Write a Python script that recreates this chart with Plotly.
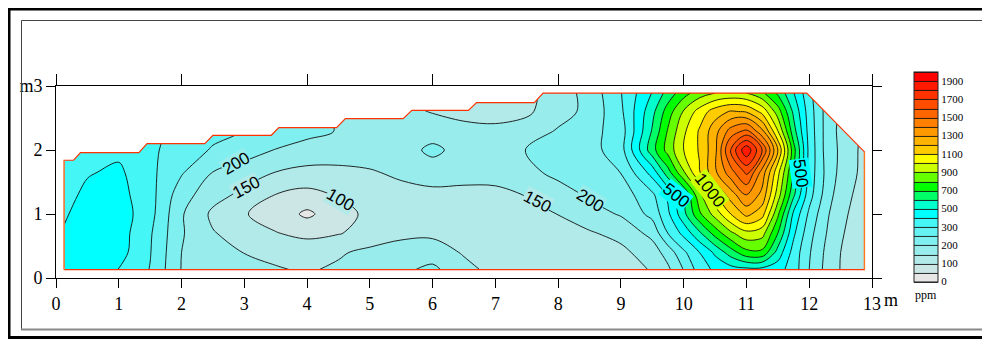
import plotly.graph_objects as go

# ---------------- data ----------------
x_m = [0.13, 0.5, 1.0, 1.5, 2.0, 2.5, 3.0, 3.5, 4.0, 4.5, 5.0, 5.5, 6.0, 6.5, 7.0, 7.5,
       8.0, 8.5, 9.0, 9.5, 9.75, 10.0, 10.25, 10.5, 10.75, 11.0, 11.25, 11.5, 11.75,
       12.0, 12.25, 12.5, 12.88]
y_m = [0.13, 0.4, 0.7, 1.0, 1.3, 1.65, 2.0, 2.3, 2.6, 2.89]

# ppm values, one row per y (bottom to top), one column per x
ppm_row_0 = [440, 460, 398, 298, 198, 175, 162, 154, 145, 158, 172, 190, 212, 165, 135, 128,
             125, 128, 138, 152, 190, 252, 345, 420, 455, 470, 465, 440, 350, 250, 190, 148, 115]
ppm_row_1 = [430, 465, 440, 305, 200, 168, 149, 138, 128, 144, 162, 172, 175, 145, 128, 118,
             114, 120, 138, 175, 222, 290, 400, 520, 650, 770, 775, 560, 360, 255, 195, 150, 120]
ppm_row_2 = [412, 462, 448, 312, 205, 153, 130, 102, 88, 97, 118, 138, 140, 132, 122, 118,
             122, 145, 165, 215, 302, 430, 580, 740, 880, 970, 940, 700, 420, 268, 205, 155, 122]
ppm_row_3 = [385, 458, 455, 335, 205, 140, 103, 80, 40, 80, 112, 120, 122, 118, 125, 138,
             151, 178, 205, 265, 380, 570, 780, 940, 1100, 1230, 1140, 820, 480, 290, 215, 160, 128]
ppm_row_4 = [368, 422, 435, 336, 222, 168, 138, 99, 85, 104, 125, 136, 140, 135, 138, 152,
             175, 208, 222, 290, 420, 600, 870, 1090, 1250, 1400, 1270, 950, 620, 340, 235, 170, 130]
ppm_row_5 = [348, 392, 418, 325, 255, 199, 172, 149, 135, 137, 146, 158, 168, 170, 168, 185,
             215, 225, 251, 440, 660, 890, 1090, 1280, 1460, 1620, 1360, 1030, 690, 360, 245, 185, 135]
ppm_row_6 = [330, 345, 378, 318, 278, 245, 228, 198, 185, 178, 172, 172, 215, 175, 178, 201,
             222, 230, 280, 660, 840, 1000, 1110, 1270, 1620, 1880, 1600, 1200, 740, 370, 240, 190, 135]
ppm_row_7 = [320, 330, 345, 315, 292, 265, 249, 228, 212, 198, 180, 170, 170, 165, 162, 170,
             205, 232, 275, 610, 810, 980, 1110, 1260, 1440, 1520, 1320, 1000, 640, 360, 240, 185, 140]
ppm_row_8 = [320, 325, 335, 310, 295, 270, 252, 232, 212, 190, 170, 160, 148, 135, 130, 142,
             178, 215, 290, 570, 750, 910, 1040, 1150, 1210, 1190, 1070, 850, 580, 350, 240, 190, 140]
ppm_row_9 = [320, 325, 330, 305, 295, 275, 255, 232, 210, 185, 162, 145, 130, 120, 118, 135,
             175, 218, 298, 505, 640, 760, 850, 900, 920, 900, 820, 680, 505, 330, 240, 190, 140]
ppm_rows = [ppm_row_0, ppm_row_1, ppm_row_2, ppm_row_3, ppm_row_4,
            ppm_row_5, ppm_row_6, ppm_row_7, ppm_row_8, ppm_row_9]

# legend class boundaries (ppm) and the colour of each class
level_ppm = [0, 50, 100, 150, 200, 250, 300, 400, 500, 600, 700, 800, 900, 1000,
             1100, 1200, 1300, 1400, 1500, 1600, 1700, 1800, 1900, 2000]
band_colors = ["#e6e6e6", "#cce6e6", "#b2e9e9", "#98ecec", "#80efef", "#66f2f2",
               "#44f6f6", "#00ffff", "#00ffcc", "#00ff66", "#00ff00", "#66ff00",
               "#ccff00", "#ffff00", "#ffcc00", "#ffb300", "#ff9900", "#ff8000",
               "#ff6600", "#ff4d00", "#ff3300", "#ff1a00", "#ff0000"]
cbar_tick_ppm = [0, 100, 200, 300, 500, 700, 900, 1100, 1300, 1500, 1700, 1900]

# outline of the surveyed area
region_x = [0.13, 0.13, 0.28, 0.39, 1.32, 1.45, 2.37, 2.50, 3.43, 3.55, 4.47, 4.61,
            5.53, 5.67, 6.57, 6.70, 7.62, 7.76, 11.96, 12.88, 12.88, 0.13]
region_y = [0.13, 1.84, 1.84, 1.96, 1.96, 2.10, 2.10, 2.23, 2.23, 2.35, 2.35, 2.49,
            2.49, 2.62, 2.62, 2.74, 2.74, 2.89, 2.89, 1.97, 0.13, 0.13]

# contour labels
lab_text = ["200", "150", "100", "150", "200", "500", "1000", "500"]
lab_x = [2.87, 3.03, 4.52, 7.66, 8.51, 9.88, 10.42, 11.86]
lab_y = [1.79, 1.42, 1.22, 1.19, 1.21, 1.29, 1.37, 1.63]
lab_angle = [-30, -28, 30, 28, 32, 38, 52, 82]
lab_band = [3, 2, 2, 2, 3, 7, 12, 7]

x_ticks = list(range(14))
y_ticks = [0, 1, 2, 3]
y_ticktext = ["0", "1", "2", "m3"]
top_ticks = [0, 2, 4, 6, 8, 10, 12, 13]

# ---------------- helpers ----------------
def to_level(v):
    for k in range(len(level_ppm) - 1):
        lo, hi = level_ppm[k], level_ppm[k + 1]
        if v <= hi:
            return k + (v - lo) / (hi - lo)
    return len(level_ppm) - 1

n_band = len(band_colors)
z_level = [[to_level(v) for v in row] for row in ppm_rows]

colorscale = []
for k, c in enumerate(band_colors):
    colorscale.append([k / n_band, c])
    colorscale.append([(k + 1) / n_band, c])

# the page body adds an 8 px offset, so the figure is drawn 8 px smaller
OFF = 8
W, H = 990 - OFF, 339 - OFF
ML, MR, MT, MB = 48, 118, 78, 61
PW, PH = W - ML - MR, H - MT - MB


def pxx(p):
    return (p - OFF - ML) / PW


def pxy(p):
    return (H - MB - (p - OFF)) / PH


SERIF = "Liberation Serif"
SANS = "Liberation Sans"

fig = go.Figure()

fig.add_trace(go.Contour(
    x=x_m, y=y_m, z=z_level,
    zmin=0, zmax=n_band, zauto=False,
    colorscale=colorscale,
    contours=dict(start=0, end=n_band, size=1, coloring="fill", showlines=True),
    line=dict(color="#111111", width=0.9, smoothing=1.0),
    hoverinfo="skip",
    colorbar=dict(
        x=pxx(914), xanchor="left", xpad=0,
        y=pxy(176.6), yanchor="middle", ypad=0,
        len=210, lenmode="pixels", thickness=24, thicknessmode="pixels",
        outlinewidth=1, outlinecolor="#222222",
        tickmode="array",
        tickvals=[to_level(v) for v in cbar_tick_ppm],
        ticktext=[str(v) for v in cbar_tick_ppm],
        ticks="", tickfont=dict(family=SERIF, size=11, color="black"),
    ),
))

# white mask above the stepped top outline
top_x = region_x[1:20]
top_y = region_y[1:20]
mask_x = [0.08] + top_x + [12.93, 12.93, 0.08]
mask_y = [top_y[0]] + top_y + [top_y[-1], 2.96, 2.96]
fig.add_trace(go.Scatter(x=mask_x, y=mask_y, fill="toself", fillcolor="white",
                         mode="lines", line=dict(width=0, color="white"),
                         hoverinfo="skip", showlegend=False))

# outline
fig.add_trace(go.Scatter(x=region_x, y=region_y, mode="lines",
                         line=dict(color="#ff3300", width=1.2),
                         hoverinfo="skip", showlegend=False))
fig.add_trace(go.Scatter(x=region_x[:2], y=region_y[:2], mode="lines",
                         line=dict(color="#e09050", width=1.2),
                         hoverinfo="skip", showlegend=False))
fig.add_trace(go.Scatter(x=region_x[19:21], y=region_y[19:21], mode="lines",
                         line=dict(color="#ff7a1a", width=1.2),
                         hoverinfo="skip", showlegend=False))

# dummy trace for the top / right frame axes
fig.add_trace(go.Scatter(x=[None], y=[None], xaxis="x2", yaxis="y2",
                         showlegend=False, hoverinfo="skip"))

annotations = []
for t, xx, yy, a, b in zip(lab_text, lab_x, lab_y, lab_angle, lab_band):
    annotations.append(dict(x=xx, y=yy, xref="x", yref="y", text=t, showarrow=False,
                            textangle=a, font=dict(family=SANS, size=17, color="black"),
                            bgcolor=band_colors[b], borderpad=0))
annotations.append(dict(x=13, y=pxy(300), xref="x", yref="paper", text="m",
                        showarrow=False, xanchor="left", yanchor="middle", xshift=10,
                        font=dict(family=SERIF, size=18, color="black")))
annotations.append(dict(x=pxx(926), y=pxy(295), xref="paper", yref="paper", text="ppm",
                        showarrow=False, xanchor="center", yanchor="middle",
                        font=dict(family=SERIF, size=12, color="black")))

shapes = [
    dict(type="rect", xref="paper", yref="paper", x0=pxx(8.5), x1=pxx(1010),
         y0=pxy(338), y1=pxy(8.5), line=dict(color="black", width=4)),
    dict(type="rect", xref="paper", yref="paper", x0=pxx(21.5), x1=pxx(1010),
         y0=pxy(329.5), y1=pxy(20.5), line=dict(color="#444444", width=1)),
    dict(type="line", xref="paper", yref="paper", x0=pxx(21), x1=pxx(1010),
         y0=pxy(329.5), y1=pxy(329.5), line=dict(color="#888888", width=2)),
]

axis_common = dict(showline=True, linecolor="black", linewidth=1, showgrid=False,
                   zeroline=False, ticks="outside", tickcolor="black", tickwidth=1,
                   automargin=False)

fig.update_layout(
    width=W, height=H,
    margin=dict(l=ML, r=MR, t=MT, b=MB, pad=0, autoexpand=False),
    paper_bgcolor="white", plot_bgcolor="white",
    showlegend=False,
    xaxis=dict(range=[0, 13], tickvals=x_ticks, ticktext=[str(v) for v in x_ticks],
               ticklen=9, tickfont=dict(family=SERIF, size=18, color="black"),
               **axis_common),
    yaxis=dict(range=[0, 3], tickvals=y_ticks, ticktext=y_ticktext, ticklen=9,
               tickfont=dict(family=SERIF, size=18, color="black"), **axis_common),
    xaxis2=dict(range=[0, 13], overlaying="x", side="top", anchor="y2",
                tickvals=top_ticks, ticklen=11, showticklabels=False, **axis_common),
    yaxis2=dict(range=[0, 3], overlaying="y", side="right", anchor="x2",
                tickvals=y_ticks, ticklen=9, showticklabels=False, **axis_common),
    annotations=annotations,
    shapes=shapes,
)

fig.write_html("out.html")
